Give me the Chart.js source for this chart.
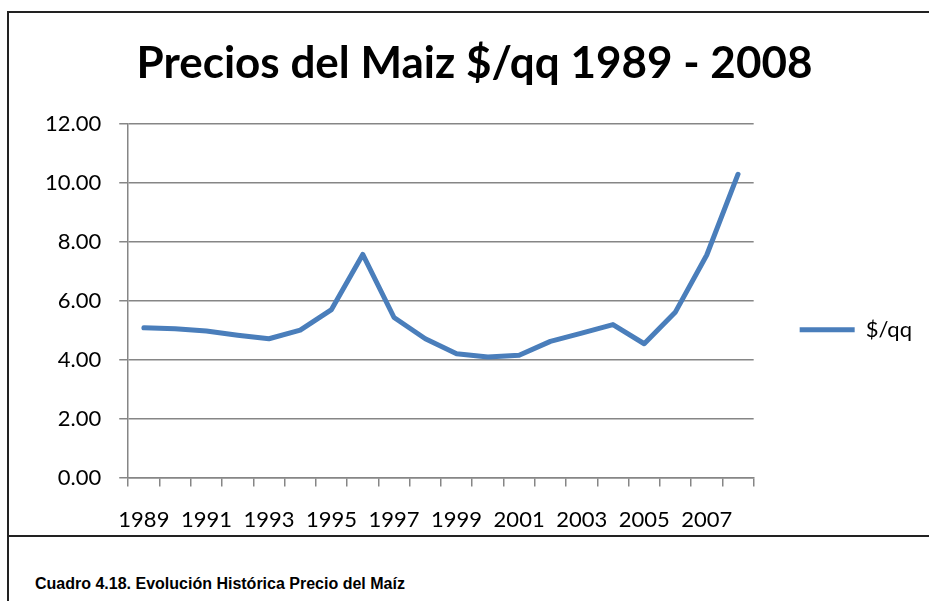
<!DOCTYPE html>
<html>
<head>
<meta charset="utf-8">
<script src="https://cdn.jsdelivr.net/npm/chart.js@4"></script>
<style>
  html, body { margin: 0; padding: 0; background: #fff; }
  body { width: 929px; height: 601px; overflow: hidden; position: relative; }
  #frame { position: absolute; left: 7px; top: 11px; width: 940px; height: 526px; border: 2px solid #222; box-sizing: border-box; }
  #capbox { position: absolute; left: 7px; top: 537px; width: 940px; height: 80px; border-left: 2px solid #222; box-sizing: border-box; }
  #caption { position: absolute; left: 35px; top: 575px; font: bold 16px "Liberation Sans", Arial, sans-serif; color: #000; white-space: nowrap; }
  #wrap { position: absolute; left: 0; top: 0; width: 929px; height: 553px; }
</style>
</head>
<body>
<div id="frame"></div>
<div id="capbox"></div>
<div id="wrap"><canvas id="precios"></canvas></div>
<div id="caption">Cuadro 4.18. Evolución Histórica Precio del Maíz</div>
<script>
const years = [ '1989', '1990', '1991', '1992', '1993', '1994', '1995', '1996', '1997', '1998',
  '1999', '2000', '2001', '2002', '2003', '2004', '2005', '2006', '2007', '2008' ]
const precios = [ 5.08, 5.05, 4.97, 4.83, 4.71, 5.00, 5.70, 7.57, 5.43, 4.71,
  4.20, 4.09, 4.15, 4.62, 4.90, 5.19, 4.54, 5.62, 7.55, 10.29 ]
const yTicks = [ 0, 2, 4, 6, 8, 10, 12 ]

const gris = '#868686'
const fuente = 'Lato, "Open Sans", sans-serif'

const data = {
  labels: years,
  datasets: [ {
    label: '$/qq',
    data: precios,
    fill: false,
    borderColor: '#4a7ebb',
    backgroundColor: '#4a7ebb',
    borderWidth: 5,
    borderCapStyle: 'round',
    borderJoinStyle: 'round',
    pointRadius: 0,
    tension: 0
  } ]
}

const config = {
  type: 'line',
  data: data,
  options: {
    responsive: true,
    maintainAspectRatio: false,
    animation: false,
    layout: { padding: { left: 27, right: 7, bottom: 0 } },
    plugins: {
      title: {
        display: true,
        text: 'Precios del Maiz $/qq 1989 - 2008',
        color: '#000',
        font: { family: fuente, size: 44, weight: 'bold' },
        padding: { top: 37, bottom: 34 }
      },
      legend: {
        position: 'right',
        fullSize: false,
        // empty title just pushes the entry down to where Excel puts it
        title: { display: true, text: ' ', font: { size: 10 }, padding: 23 },
        labels: {
          usePointStyle: true,
          pointStyle: 'line',
          pointStyleWidth: 55,
          color: '#000',
          font: { family: fuente, size: 22 },
          padding: 46
        }
      },
      tooltip: { enabled: false }
    },
    scales: {
      x: {
        offset: true,
        grid: { offset: true, drawOnChartArea: false, drawTicks: true, tickLength: 9, color: gris, lineWidth: 1.5 },
        border: { color: gris, width: 1.5 },
        ticks: {
          autoSkip: false,
          maxRotation: 0,
          padding: 20,
          color: '#000',
          font: { family: fuente, size: 22 },
          callback: function ( value, index ) { return index % 2 === 0 ? years[ index ] : '' }
        }
      },
      y: {
        min: 0,
        max: 12,
        afterBuildTicks: function ( axis ) { axis.ticks = yTicks.map( v => ( { value: v } ) ) },
        grid: { color: gris, lineWidth: 1.5, tickLength: 9 },
        border: { color: gris, width: 1.5 },
        ticks: {
          padding: 18,
          color: '#000',
          font: { family: fuente, size: 22 },
          callback: function ( value ) { return value.toFixed( 2 ) }
        }
      }
    }
  }
}

const graph = new Chart( document.getElementById( 'precios' ), config )
</script>
</body>
</html>
